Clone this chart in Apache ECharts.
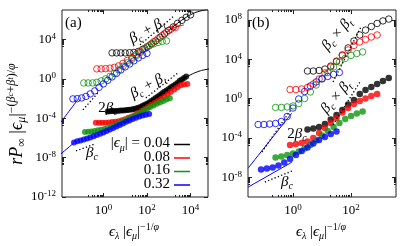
<!DOCTYPE html>
<html><head><meta charset="utf-8">
<script src="https://cdn.jsdelivr.net/npm/echarts@6/dist/echarts.min.js"></script>
<style>html,body{margin:0;padding:0;background:#fff}#c{width:415px;height:246px}</style>
</head><body><div id="c"></div>
<script>
// ---------------- DATA ----------------
const epsMu = ['0.04', '0.08', '0.16', '0.32'];
const colors = ['#000000', '#ff0000', '#0b960b', '#0000ff'];

// Panel (a) open circles (upper collapse)
const aOpenX0 = [2.5, 4.0, 6.3, 10, 16, 25, 40, 63, 100, 160, 250, 400, 630, 1000, 1600, 2500, 4000, 6300, 10000];
const aOpenY0 = [440, 440, 440, 440, 460, 490, 620, 1000, 1800, 3600, 7200, 1.7e4, 3.7e4, 8.5e4, 1.9e5, 4.4e5, 8.9e5, 1.8e6, 3.2e6];
const aOpenX1 = [0.5, 0.79, 1.26, 2.0, 3.2, 5.0, 7.9, 12.6, 20, 32, 50, 79, 126, 200, 320, 500, 790, 1260, 2000];
const aOpenY1 = [10.5, 10.5, 11, 12.3, 14.8, 21, 38, 76, 150, 310, 620, 1260, 2500, 5800, 1.2e4, 2.6e4, 5.4e4, 1.1e5, 1.7e5];
const aOpenX2 = [0.126, 0.2, 0.32, 0.5, 0.79, 1.26, 2.0, 3.2, 5.0, 7.9, 12.6, 20, 32, 50, 79, 126, 200, 320, 500, 790];
const aOpenY2 = [0.39, 0.39, 0.39, 0.44, 0.63, 1.0, 1.8, 3.6, 8.1, 19, 43, 95, 220, 490, 1120, 2240, 3600, 5100, 6500, 7200];
const aOpenX3 = [0.04, 0.063, 0.1, 0.158, 0.25, 0.4, 0.63, 1, 1.58, 2.5, 4, 6.3, 10, 16, 25, 40, 63, 100];
const aOpenY3 = [0.0093, 0.0098, 0.0117, 0.0166, 0.030, 0.060, 0.138, 0.31, 0.71, 1.58, 3.6, 8.1, 16.6, 33, 68, 135, 245, 390];

// Panel (a) filled circles (lower collapse)
const aFillX0 = [1.58, 2.0, 2.51, 3.16, 3.98, 5.01, 6.31, 7.94, 10, 12.6, 15.8, 20, 25.1, 31.6, 39.8, 50.1, 63.1, 79.4, 100, 126, 158, 200, 251, 316, 398, 501, 631, 794, 1000, 1259, 1585, 1995, 2512, 3162, 3981, 5012, 6310];
const aFillY0 = [5.0e-4, 5.2e-4, 5.4e-4, 5.6e-4, 5.6e-4, 5.9e-4, 6.0e-4, 6.3e-4, 6.6e-4, 7.1e-4, 7.4e-4, 7.9e-4, 8.9e-4, 1.0e-3, 1.17e-3, 1.41e-3, 1.82e-3, 2.3e-3, 3.0e-3, 4.1e-3, 5.8e-3, 8.3e-3, 1.17e-2, 1.66e-2, 2.3e-2, 3.4e-2, 4.8e-2, 6.8e-2, 9.5e-2, 0.138, 0.195, 0.275, 0.39, 0.63, 0.89, 1.26, 1.78];
const aFillX1 = [0.447, 0.631, 0.891, 1.26, 1.78, 2.51, 3.55, 5.01, 7.08, 10, 14.1, 20, 28.2, 39.8, 56.2, 79.4, 112, 158, 224, 316, 447, 631, 891, 1259, 1778, 2512, 3548, 5012, 7079];
const aFillY1 = [3.4e-5, 3.4e-5, 3.4e-5, 3.5e-5, 3.8e-5, 4.1e-5, 4.5e-5, 5.1e-5, 6.3e-5, 7.9e-5, 1.1e-4, 1.55e-4, 2.2e-4, 3.5e-4, 5.6e-4, 8.9e-4, 1.4e-3, 2.3e-3, 3.6e-3, 5.8e-3, 9.3e-3, 1.48e-2, 2.6e-2, 4.8e-2, 8.5e-2, 0.138, 0.22, 0.275, 0.31];
const aFillX2 = [0.141, 0.2, 0.282, 0.398, 0.562, 0.794, 1.12, 1.58, 2.24, 3.16, 4.47, 6.31, 8.91, 12.6, 17.8, 25.1, 35.5, 50.1, 70.8, 100, 141, 200, 282, 398, 562, 794, 1122];
const aFillY2 = [4.1e-6, 4.3e-6, 4.6e-6, 5.2e-6, 5.9e-6, 6.9e-6, 8.3e-6, 1.05e-5, 1.38e-5, 1.86e-5, 2.7e-5, 3.8e-5, 5.4e-5, 7.6e-5, 1.1e-4, 1.55e-4, 2.3e-4, 3.5e-4, 5.6e-4, 8.9e-4, 1.4e-3, 2.0e-3, 2.9e-3, 4.1e-3, 5.8e-3, 8.3e-3, 1.05e-2];
const aFillX3 = [0.0447, 0.0631, 0.0891, 0.126, 0.178, 0.251, 0.355, 0.501, 0.708, 1, 1.41, 2.0, 2.82, 3.98, 5.62, 7.94, 11.2, 15.8, 22.4, 31.6, 44.7, 63.1, 89.1, 126];
const aFillY3 = [3.5e-7, 4.5e-7, 5.6e-7, 7.1e-7, 8.9e-7, 1.12e-6, 1.5e-6, 2.0e-6, 2.7e-6, 3.6e-6, 5.2e-6, 7.4e-6, 1.05e-5, 1.48e-5, 2.1e-5, 3.0e-5, 4.3e-5, 6.0e-5, 8.5e-5, 1.15e-4, 1.5e-4, 1.95e-4, 2.3e-4, 2.75e-4];

// Panel (a) fit lines
const aLineBlackUpX = [1000, 2500, 6300, 12600, 25000, 63000];
const aLineBlackUpY = [8.5e4, 4.4e5, 1.8e6, 4.2e6, 7.4e6, 1.1e7];
const aLineRedUpX = [790, 1260, 2000, 3200, 5000];
const aLineRedUpY = [5.4e4, 1.1e5, 1.7e5, 2.4e5, 3.0e5];
const aLineBlueUpX = [0.01, 0.07];
const aLineBlueUpY = [2.9e-5, 0.009];
const aLineBlackLoX = [3981, 10000, 20000, 39800, 79400];
const aLineBlackLoY = [0.89, 2.6, 5.1, 8.1, 10.5];
const aLineBlueLoX = [0.01, 0.0447];
const aLineBlueLoY = [1.95e-8, 3.2e-7];
// Panel (a) guide slopes (dotted)
const aDot2bcX = [0.115, 0.56], aDot2bcY = [7.1e-4, 0.038];
const aDotUpX = [48, 1740], aDotUpY = [2.9e3, 2.5e6];
const aDotLoX = [89, 2630], aDotLoY = [0.0117, 4.1];
const aDotBcX = [0.055, 0.42], aDotBcY = [4.8e-8, 2.5e-7];

// Panel (b) open circles
const bOpenX0 = [3.16, 5.01, 7.94, 12.6, 20, 31.6, 50.1, 79.4, 126, 200, 316, 501, 794, 1259, 1995];
const bOpenY0 = [630, 630, 720, 1000, 2000, 5900, 2.7e4, 1.4e5, 7.1e5, 2.9e6, 9.1e6, 2.1e7, 4.3e7, 7.8e7, 1.2e8];
const bOpenX1 = [0.794, 1.26, 2.0, 3.16, 5.01, 7.94, 12.6, 20, 31.6, 50.1, 79.4, 126, 200, 316, 501, 794];
const bOpenY1 = [8.3, 8.3, 9.5, 13.5, 30, 98, 400, 1620, 6600, 2.4e4, 8.7e4, 2.5e5, 5.6e5, 1.02e6, 1.8e6, 2.9e6];
const bOpenX2 = [0.251, 0.398, 0.631, 1, 1.58, 2.51, 3.98, 6.31, 10, 15.8, 25.1, 39.8, 63.1, 100, 158, 251];
const bOpenY2 = [0.126, 0.126, 0.141, 0.178, 0.316, 1.02, 4.7, 24, 110, 450, 1620, 5200, 1.2e4, 2.4e4, 3.8e4, 5.5e4];
const bOpenX3 = [0.0631, 0.1, 0.158, 0.251, 0.398, 0.631, 1, 1.58, 2.51, 3.98, 6.31, 10, 15.8, 25.1, 39.8];
const bOpenY3 = [2.3e-3, 2.3e-3, 2.6e-3, 2.95e-3, 4.7e-3, 1.5e-2, 0.11, 0.91, 5.2, 19, 49, 98, 178, 282, 447];
// Panel (b) filled circles
const bFillX0 = [3.16, 5.01, 7.94, 12.6, 20, 31.6, 50.1, 79.4, 126, 200, 316, 501, 794, 1259, 1995];
const bFillY0 = [7.2e-4, 9.1e-4, 1.29e-3, 2.6e-3, 7.6e-3, 2.1e-2, 6.9e-2, 0.25, 0.72, 2.95, 7.4, 15, 30, 62, 123];
const bFillX1 = [0.794, 1.26, 2.0, 3.16, 5.01, 7.94, 12.6, 20, 31.6, 50.1, 79.4, 126, 200, 316, 501, 794];
const bFillY1 = [1.9e-5, 2.45e-5, 3.1e-5, 4.4e-5, 1.0e-4, 3.2e-4, 1.02e-3, 3.3e-3, 1.07e-2, 3.9e-2, 0.11, 0.28, 0.58, 1.02, 1.8, 2.95];
const bFillX2 = [0.251, 0.398, 0.631, 1, 1.58, 2.51, 3.98, 6.31, 10, 15.8, 25.1, 39.8, 63.1, 100, 158, 251];
const bFillY2 = [1.02e-6, 1.32e-6, 1.86e-6, 2.6e-6, 4.2e-6, 8.5e-6, 1.9e-5, 5.5e-5, 1.78e-4, 5.1e-4, 1.29e-3, 3.3e-3, 8.5e-3, 1.7e-2, 3.1e-2, 4.9e-2];
const bFillX3 = [0.0794, 0.126, 0.2, 0.316, 0.501, 0.794, 1.26, 2.0, 3.16, 5.01, 7.94, 12.6, 20, 31.6];
const bFillY3 = [6.2e-8, 7.9e-8, 1.0e-7, 1.58e-7, 3.2e-7, 7.2e-7, 1.86e-6, 4.7e-6, 1.07e-5, 2.75e-5, 6.2e-5, 1.26e-4, 2.5e-4, 4.6e-4];
// Panel (b) lines
const bLineBlueUpX = [0.0282, 0.90], bLineBlueUpY = [8.3e-8, 0.032];
const bLineBlueLoX = [0.0282, 0.93], bLineBlueLoY = [1.0e-9, 3.5e-7];
const bDotUpX = [24, 219], bDotUpY = [49, 1.9e7];
const bDotLoX = [24, 204], bDotLoY = [2.1e-3, 49];
const bDot2bcX = [0.085, 0.93], bDot2bcY = [3.7e-6, 0.11];
const bDotBcX = [0.107, 0.93], bDotBcY = [3.3e-9, 4.4e-8];

// Axis ranges / tick labels (exponents of 10)
const aXRange = [-1.9, 4.8], aYRange = [-12, 7];
const bXRange = [-1.55, 3.55], bYRange = [-10, 9];
const aXTicks = [0, 2, 4], aYTicks = [-12, -8, -4, 0, 4];
const bXTicks = [0, 2], bYTicks = [-8, -4, 0, 4, 8];

// ---------------- BUILD ----------------
const FONT = '"Liberation Serif", "DejaVu Serif", serif';
const zip = (xs, ys) => xs.map((x, i) => [x, ys[i]]);

function richSet(F) {
  const s = Math.round(F * 0.68), t = Math.round(F * 0.5);
  const base = {fontFamily: FONT, color: '#000'};
  return {
    n: {...base, fontSize: F, lineHeight: F + 4},
    i: {...base, fontSize: F, lineHeight: F + 4, fontStyle: 'italic'},
    sb: {...base, fontSize: s, lineHeight: s, fontStyle: 'italic', verticalAlign: 'bottom'},
    sbn: {...base, fontSize: s, lineHeight: s, verticalAlign: 'bottom'},
    sp: {...base, fontSize: s, lineHeight: s, verticalAlign: 'top'},
    spi: {...base, fontSize: s, lineHeight: s, fontStyle: 'italic', verticalAlign: 'top'},
    ss: {...base, fontSize: t, lineHeight: s + 3, fontStyle: 'italic', verticalAlign: 'top'}
  };
}

const tickRich = {
  b: {fontFamily: FONT, fontSize: 13, lineHeight: 15, color: '#000'},
  s: {fontFamily: FONT, fontSize: 9, lineHeight: 9, color: '#000', verticalAlign: 'top'}
};
const minorOf = majors => majors.flatMap(n => [2,3,4,5,6,7,8,9].map(k => n - 1 + Math.log10(k)));

function tickAxes(grid, range, majors, sides, labelSide) {
  const out = [];
  sides.forEach(pos => {
    out.push({
      type: 'value', gridIndex: grid, position: pos, min: range[0], max: range[1],
      axisLine: {show: false, onZero: false}, splitLine: {show: false},
      axisTick: {show: true, inside: true, length: 4, customValues: majors, lineStyle: {color: '#222', width: 1}},
      axisLabel: pos === labelSide ? {
        show: true, customValues: majors, margin: 6,
        formatter: v => '{b|10}{s|' + v + '}', rich: tickRich
      } : {show: false}
    });
    out.push({
      type: 'value', gridIndex: grid, position: pos, min: range[0], max: range[1],
      axisLine: {show: false, onZero: false}, splitLine: {show: false},
      axisTick: {show: true, inside: true, length: 2, customValues: minorOf(majors).filter(v => v > range[0] && v < range[1]), lineStyle: {color: '#222', width: 1}},
      axisLabel: {show: false}
    });
  });
  return out;
}

const xAxis = [
  {type: 'log', logBase: 10, gridIndex: 0, min: Math.pow(10, aXRange[0]), max: Math.pow(10, aXRange[1]), show: false, axisLine: {onZero: false}},
  ...tickAxes(0, aXRange, aXTicks, ['bottom', 'top'], 'bottom'),
  {type: 'log', logBase: 10, gridIndex: 1, min: Math.pow(10, bXRange[0]), max: Math.pow(10, bXRange[1]), show: false, axisLine: {onZero: false}},
  ...tickAxes(1, bXRange, bXTicks, ['bottom', 'top'], 'bottom')
];
const yAxis = [
  {type: 'log', logBase: 10, gridIndex: 0, min: Math.pow(10, aYRange[0]), max: Math.pow(10, aYRange[1]), show: false, axisLine: {onZero: false}},
  ...tickAxes(0, aYRange, aYTicks, ['left', 'right'], 'left'),
  {type: 'log', logBase: 10, gridIndex: 1, min: Math.pow(10, bYRange[0]), max: Math.pow(10, bYRange[1]), show: false, axisLine: {onZero: false}},
  ...tickAxes(1, bYRange, bYTicks, ['left', 'right'], 'left')
];

const series = [];
function scat(p, xs, ys, ci, open, size) {
  series.push({
    type: 'scatter', xAxisIndex: p * 5, yAxisIndex: p * 5, data: zip(xs, ys),
    symbol: 'circle', symbolSize: size, silent: true, clip: true,
    itemStyle: open ? {color: 'rgba(0,0,0,0)', borderColor: colors[ci], borderWidth: 1}
                    : {color: colors[ci], borderWidth: 0}
  });
}
function line(p, xs, ys, color, dotted) {
  series.push({
    type: 'line', xAxisIndex: p * 5, yAxisIndex: p * 5, data: zip(xs, ys),
    showSymbol: false, symbol: 'none', smooth: !dotted, clip: true, silent: true,
    lineStyle: {color: color, width: dotted ? 1.3 : 1, type: dotted ? [1.3, 2.2] : 'solid'}
  });
}
// panel a
line(0, aDot2bcX, aDot2bcY, '#000', true);
line(0, aDotUpX, aDotUpY, '#000', true);
line(0, aDotLoX, aDotLoY, '#000', true);
line(0, aDotBcX, aDotBcY, '#000', true);
line(0, aLineBlackUpX, aLineBlackUpY, colors[0]);
line(0, aLineRedUpX, aLineRedUpY, colors[1]);
line(0, aLineBlueUpX, aLineBlueUpY, colors[3]);
line(0, aLineBlackLoX, aLineBlackLoY, colors[0]);
line(0, aLineBlueLoX, aLineBlueLoY, colors[3]);
[[aOpenX0, aOpenY0], [aOpenX1, aOpenY1], [aOpenX2, aOpenY2], [aOpenX3, aOpenY3]].forEach((d, i) => scat(0, d[0], d[1], i, true, 6.5));
[[aFillX0, aFillY0], [aFillX1, aFillY1], [aFillX2, aFillY2], [aFillX3, aFillY3]].forEach((d, i) => scat(0, d[0], d[1], i, false, 6));
// panel b
line(1, bDotUpX, bDotUpY, '#000', true);
line(1, bDotLoX, bDotLoY, '#000', true);
line(1, bDot2bcX, bDot2bcY, '#000', true);
line(1, bDotBcX, bDotBcY, '#000', true);
line(1, bLineBlueUpX, bLineBlueUpY, colors[3]);
line(1, bLineBlueLoX, bLineBlueLoY, colors[3]);
[[bOpenX0, bOpenY0], [bOpenX1, bOpenY1], [bOpenX2, bOpenY2], [bOpenX3, bOpenY3]].forEach((d, i) => scat(1, d[0], d[1], i, true, 6.5));
[[bFillX0, bFillY0], [bFillX1, bFillY1], [bFillX2, bFillY2], [bFillX3, bFillY3]].forEach((d, i) => scat(1, d[0], d[1], i, false, 6.5));

// text helpers
function txt(x, y, text, F, rot, align) {
  return {type: 'text', x: x, y: y, rotation: rot || 0, silent: true, z: 100,
    style: {text: text, rich: richSet(F), align: align || 'center', verticalAlign: 'middle', fontFamily: FONT, fontSize: F, fill: '#000'}};
}
const bcbt = '{i|β}{sb|c}{n| + }{i|β}{sb|t}';
const bcxbt = '{i|β}{sb|c}{n| × }{i|β}{sb|t}';
const graphic = [
  txt(17, 114, '{i|rP}{sbn|∞}{n| |}{i|ϵ}{sb|μ}{n||}{sp|−(}{spi|β}{ss|c}{sp|+}{spi|β}{ss|t}{sp|)/}{spi|φ}', 18, Math.PI / 2),
  txt(134, 232, '{i|ϵ}{sb|λ}{n| |}{i|ϵ}{sb|μ}{n||}{sp|−1/}{spi|φ}', 15, 0),
  txt(321, 232, '{i|ϵ}{sb|λ}{n| |}{i|ϵ}{sb|μ}{n||}{sp|−1/}{spi|φ}', 15, 0),
  txt(65, 23, '{n|(a)}', 15, 0, 'left'),
  txt(252, 23, '{n|(b)}', 15, 0, 'left'),
  txt(147, 31, bcbt, 15, 0.5),
  txt(148, 86, bcbt, 15, 0.5),
  txt(108, 108, '{n|2}{i|β}{sb|c}', 15, 0),
  txt(92, 153, '{i|β}{sb|c}', 15, 0),
  txt(337, 34, bcxbt, 15, 0.85),
  txt(336, 97, bcxbt, 15, 0.85),
  txt(297, 134, '{n|2}{i|β}{sb|c}', 15, 0),
  txt(287, 182, '{i|β}{sb|c}', 15, 0)
];
const legendY = [143.5, 157, 170.5, 184];
epsMu.forEach((v, i) => {
  graphic.push(txt(170, legendY[i], (i === 0 ? '{n||}{i|ϵ}{sb|μ}{n|| = }' : '') + '{n|' + v + '}', 15, 0, 'right'));
  graphic.push({type: 'line', silent: true, z: 100, shape: {x1: 174, y1: legendY[i] + 1, x2: 190, y2: legendY[i] + 1}, style: {stroke: colors[i], lineWidth: 1.5}});
});

const chart = echarts.init(document.getElementById('c'), null, {renderer: 'canvas'});
chart.setOption({
  animation: false,
  backgroundColor: '#fff',
  grid: [
    {left: 62, top: 10, width: 146, height: 187, show: true, borderColor: '#222', borderWidth: 1, backgroundColor: 'transparent'},
    {left: 248, top: 10, width: 148, height: 187, show: true, borderColor: '#222', borderWidth: 1, backgroundColor: 'transparent'}
  ],
  xAxis: xAxis, yAxis: yAxis, series: series, graphic: graphic
});
</script></body></html>
